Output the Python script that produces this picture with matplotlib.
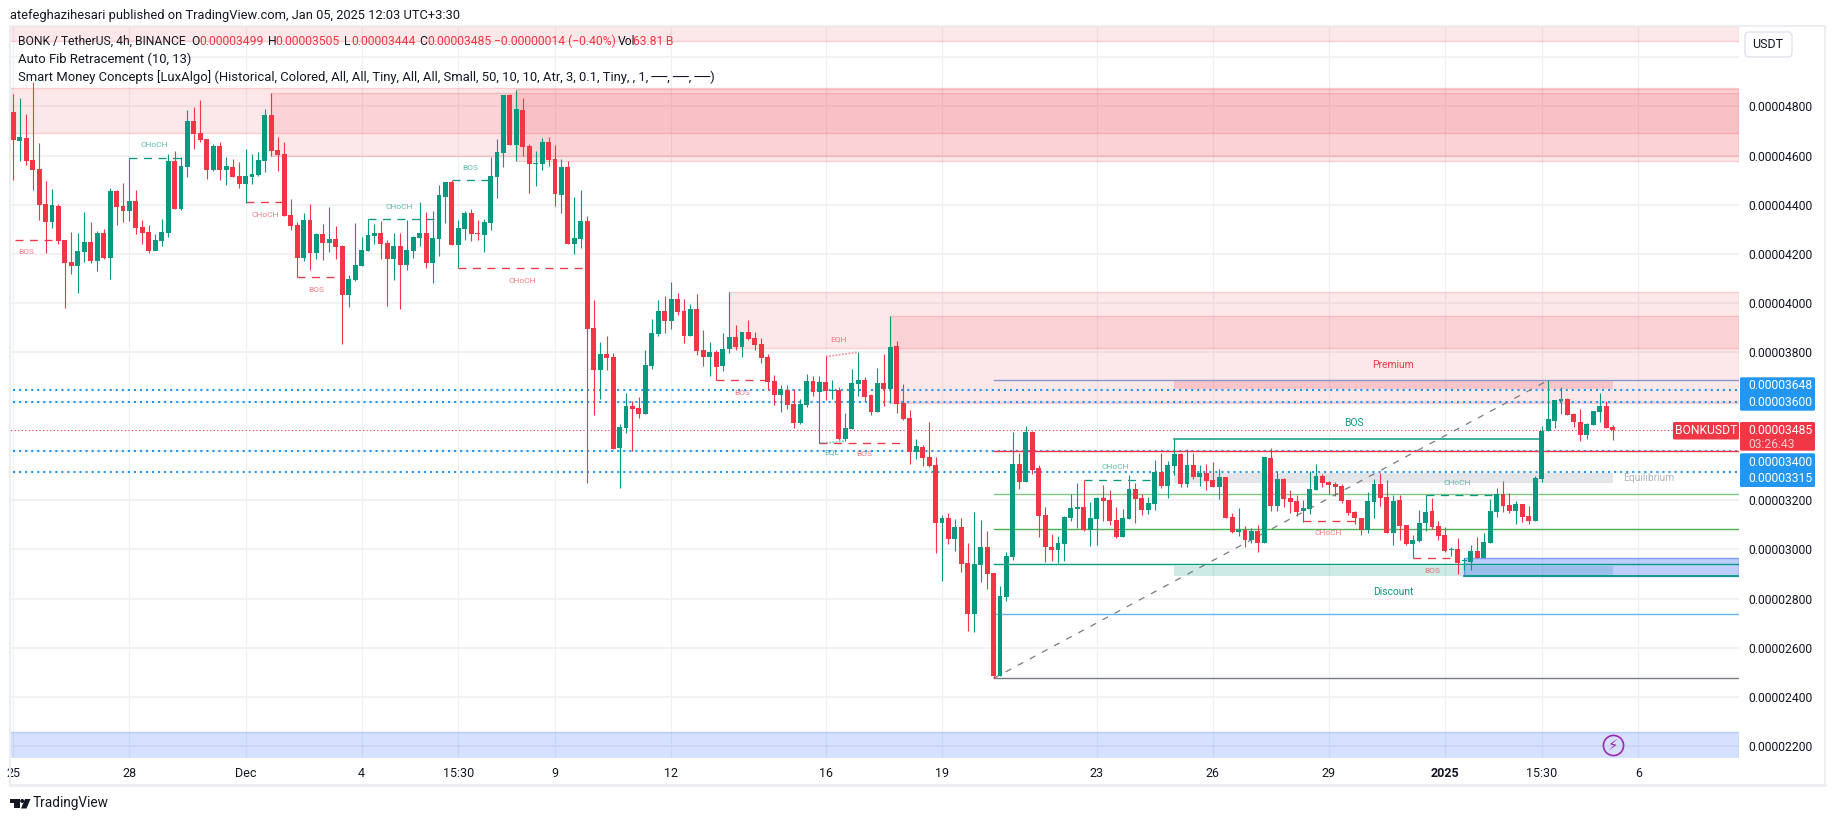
import numpy as np
import matplotlib
matplotlib.use('Agg')
import matplotlib.pyplot as plt
from matplotlib.patches import Rectangle, FancyBboxPatch, Circle, Polygon

plt.rcParams['font.family'] = ['Roboto', 'DejaVu Sans']

# prices are in units of 0.00000001 BONK/USDT
opens = [4777,4659,4671,4582,4545,4403,4330,4395,4257,4168, 4151,4208,4249,4172,4286,4184,4456,4395,4375,4415,
         4310,4290,4212,4253,4286,4578,4383,4554,4740,4692, 4667,4541,4639,4541,4554,4517,4485,4513,4521,4578,
         4765,4623,4606,4359,4318,4184,4338,4204,4281,4245, 4261,4233,4034,4095,4151,4212,4273,4286,4245,4180,
         4233,4156,4212,4265,4286,4164,4261,4432,4493,4237, 4302,4367,4286,4277,4326,4513,4610,4846,4643,4785,
         4639,4566,4566,4655,4586,4440,4554,4241,4261,4334, 3900,3729,3794,3782,3412,3493,3583,3574,3550,3745,
         3875,3968,3928,4017,3968,3867,3977,3810,3782,3802, 3745,3814,3863,3822,3883,3859,3834,3782,3684,3627,
         3648,3591,3513,3587,3685,3640,3681,3645,3648,3449, 3490,3672,3689,3628,3559,3676,3652,3827,3595,3534,
         3396,3417,3376,3343,3108,3128,3043,3091,2945,2738, 2937,3010,2905,2486,2807,2969,3347,3274,3477,3331,
         3140,3010,2997,3022,3127,3164,3172,3079,3123,3209, 3200,3119,3050,3123,3245,3209,3160,3184,3314,3257,
         3339,3387,3266,3343,3294,3310,3282,3253,3294,3131, 3071,3079,3038,3075,3026,3371,3176,3286,3209,3196,
         3156,3164,3241,3298,3274,3266,3257,3201,3152,3127, 3079,3192,3266,3213,3066,3200,3099,3022,3034,3107,
         3156,3095,3059,2996,3002,2952,2949,2994,2965,3026, 3152,3225,3181,3156,3185,3136,3116,3286,3481,3522,
         3603,3611,3550,3518,3465,3506,3558,3583,3499]
highs = [4850,4834,4769,4899,4651,4497,4464,4403,4257,4290, 4286,4371,4330,4294,4302,4468,4460,4489,4589,4460,
         4338,4318,4281,4342,4606,4619,4594,4785,4797,4826, 4667,4647,4655,4594,4586,4574,4627,4606,4615,4789,
         4854,4675,4655,4424,4330,4367,4403,4286,4322,4391, 4314,4237,4115,4326,4269,4341,4322,4334,4257,4286,
         4286,4338,4273,4411,4371,4375,4481,4493,4501,4338, 4375,4383,4338,4342,4594,4667,4846,4850,4866,4834,
         4647,4619,4671,4675,4643,4586,4578,4432,4460,4355, 4013,3843,3867,3798,3509,3635,3603,3619,3810,3936,
         4013,4029,4086,4042,4017,3997,4038,3891,3843,3810, 3879,4046,3912,3883,3932,3883,3859,3794,3708,3668,
         3668,3652,3611,3713,3705,3705,3786,3689,3660,3555, 3733,3802,3701,3632,3737,3794,3949,3847,3672,3567,
         3449,3425,3518,3376,3140,3148,3124,3128,3027,3152, 3120,3075,2905,2852,2990,3477,3391,3501,3481,3343,
         3172,3062,3054,3136,3225,3270,3280,3192,3213,3261, 3241,3172,3164,3302,3270,3225,3213,3363,3391,3359,
         3447,3391,3408,3391,3343,3347,3355,3326,3294,3148, 3168,3095,3087,3099,3375,3412,3318,3290,3241,3221,
         3201,3318,3347,3306,3278,3274,3266,3201,3156,3127, 3233,3286,3310,3282,3221,3221,3099,3059,3160,3220,
         3209,3116,3091,3010,3047,2964,3018,3051,3067,3205, 3250,3278,3229,3197,3185,3177,3298,3502,3688,3607,
         3659,3615,3554,3571,3514,3562,3636,3603,3505]
lows = [4501,4578,4562,4460,4338,4204,4306,4241,3981,4119, 4042,4168,4164,4131,4180,4099,4318,4330,4334,4281,
        4241,4204,4233,4233,4269,4383,4379,4513,4627,4655, 4505,4537,4501,4480,4513,4468,4409,4485,4517,4533,
        4598,4537,4355,4298,4105,4172,4135,4180,4176,4208, 4180,3835,3985,4091,4151,4212,4241,4180,3989,4095,
        3977,4135,4184,4233,4143,4082,4192,4326,4237,4142, 4257,4253,4257,4208,4298,4428,4554,4643,4578,4598,
        4448,4476,4541,4558,4395,4367,4241,4200,4225,3270, 3546,3611,3729,3408,3250,3473,3400,3534,3550,3733,
        3867,3879,3895,3952,3838,3867,3790,3745,3704,3687, 3725,3798,3810,3782,3851,3810,3757,3648,3587,3558,
        3570,3493,3509,3579,3624,3431,3607,3611,3445,3441, 3490,3624,3603,3546,3559,3583,3595,3555,3526,3347,
        3368,3339,3335,2986,2872,3022,2994,2909,2669,2665, 2868,2840,2478,2486,2791,2957,3245,3274,3306,3050,
        2949,2953,2945,2953,3115,3087,3075,3014,3018,3115, 3099,3046,3050,3123,3107,3140,3144,3160,3249,3209,
        3302,3253,3253,3286,3257,3241,3253,3205,3127,3066, 3054,3010,3026,2989,3026,3156,3156,3172,3148,3136,
        3113,3144,3241,3253,3225,3217,3188,3140,3103,3058, 3066,3127,3176,3066,3018,3038,3018,2964,3030,3075,
        3083,3038,2990,2973,2900,2917,2917,2964,2964,3026, 3132,3152,3148,3103,3112,3103,3116,3274,3481,3493,
        3550,3546,3497,3441,3449,3506,3518,3493,3444]
closes = [4663,4675,4578,4541,4399,4330,4399,4253,4164,4151, 4212,4249,4172,4286,4184,4456,4391,4375,4415,4306,
          4286,4212,4257,4290,4578,4383,4558,4740,4688,4663, 4541,4639,4541,4558,4513,4485,4517,4525,4582,4765,
          4619,4602,4355,4314,4184,4338,4204,4281,4245,4261, 4229,4034,4099,4156,4216,4277,4286,4241,4180,4233,
          4156,4216,4269,4286,4164,4265,4440,4493,4237,4306, 4367,4281,4281,4330,4517,4615,4846,4643,4789,4635,
          4566,4570,4655,4582,4444,4554,4241,4265,4334,3896, 3729,3794,3778,3408,3497,3583,3570,3550,3749,3879,
          3968,3928,4017,3964,3867,3977,3806,3782,3802,3741, 3814,3863,3822,3883,3855,3830,3778,3680,3627,3650,
          3587,3513,3591,3684,3640,3681,3644,3648,3449,3494, 3676,3689,3620,3559,3676,3652,3823,3591,3530,3396,
          3421,3372,3339,3108,3128,3043,3091,2941,2738,2941, 3010,2901,2486,2811,2974,3347,3274,3477,3322,3136,
          3010,2997,3026,3132,3168,3172,3079,3127,3209,3196, 3115,3050,3127,3245,3205,3160,3188,3314,3257,3343,
          3387,3266,3343,3294,3310,3278,3253,3294,3127,3071, 3079,3038,3075,3026,3375,3176,3286,3205,3192,3152,
          3168,3245,3298,3270,3261,3253,3196,3148,3127,3079, 3196,3266,3209,3066,3196,3095,3022,3038,3107,3152,
          3091,3055,2994,2998,2945,2955,2994,2965,3030,3156, 3225,3176,3156,3185,3132,3116,3290,3481,3530,3607,
          3611,3546,3518,3465,3510,3562,3583,3493,3485]

time_ticks = [0, 18, 36, 54, 69, 84, 102, 126, 144, 168, 186, 204, 222, 237, 252]
time_labels = ['25', '28', 'Dec', '4', '15:30', '9', '12', '16', '19', '23', '26', '29', '2025', '15:30', '6']
price_ticks = list(range(2200, 5001, 200))
hidden_ticks = [3400, 3600, 5000]

# supply zones: start bar, top, bottom
red_zones = [(-1, 5125, 5067), (-1, 4873, 4691), (40, 4854, 4600), (78, 4869, 4579),
             (111, 4045, 3820), (136, 3948, 3596)]
# fib levels: price, colour
fib_levels = [(3687, '#8598c9'), (3400, '#f23645'), (3224, '#81c784'), (3082, '#4caf50'),
              (2940, '#089981'), (2736, '#64b5f6'), (2476, '#787b86')]
blue_levels = [3648, 3600, 3400, 3315]
last_price = 3485

# smart money breaks: start, end, price, label, label bar, label price, colour
UP = '#089981'
DN = '#f23645'
breaks = [(0.3, 7, 4257, 'BOS', 2, 4208, DN), (18, 26, 4590, 'CHoCH', 21.8, 4643, UP),
          (36, 42, 4411, 'CHoCH', 39, 4360, DN), (44, 50, 4105, 'BOS', 47, 4055, DN),
          (55, 66, 4341, 'CHoCH', 59.9, 4392, UP), (68, 74, 4500, 'BOS', 70.9, 4551, UP),
          (69, 89, 4142, 'CHoCH', 78.9, 4092, DN), (109, 117, 3687, 'BOS', 113, 3637, DN),
          (125, 137.6, 3431, 'BOS', 131.9, 3386, DN), (166, 176.8, 3281, 'CHoCH', 170.9, 3334, UP),
          (200, 208, 3114, 'CHoCH', 203.9, 3065, DN), (219, 229.6, 3220, 'CHoCH', 223.9, 3271, UP),
          (217, 224, 2964, 'BOS', 220, 2913, DN)]

fig = plt.figure(figsize=(18.35, 8.21), dpi=100, facecolor='white')
W, H = 1835.0, 821.0
ax = fig.add_axes([10 / W, 1 - 757.7 / H, (1739 - 10) / W, (757.7 - 27) / H])
bar_idx = np.arange(len(opens))
x_right = 267.6
ax.set_xlim(-0.52, x_right)
ax.set_ylim(2154, 5122)

# grid
ax.set_axisbelow(True)
ax.grid(True, axis='y', color='#f1f2f4', linewidth=1.4)
ax.grid(True, axis='x', color='#eef0f3', linewidth=0.9)
ax.set_xticks(time_ticks)
ax.set_xticklabels(time_labels, fontsize=9, color='#131722')
ax.set_yticks(price_ticks)
ax.set_yticklabels(['' if p in hidden_ticks else f'0.0000{p:04d}' for p in price_ticks],
                   fontsize=8.7, color='#131722')
ax.yaxis.tick_right()
ax.tick_params(axis='both', length=0)
ax.tick_params(axis='y', pad=6.5)
ax.tick_params(axis='x', pad=7)
for s in ax.spines.values():
    s.set_visible(False)
for lab in ax.get_xticklabels():
    if lab.get_text() == '2025':
        lab.set_fontweight('bold')

# zones
for start, top, bottom in red_zones:
    ax.add_patch(Rectangle((start, bottom), x_right - start, top - bottom,
                           facecolor=(0.949, 0.212, 0.271, 0.115),
                           edgecolor=(0.949, 0.212, 0.271, 0.2), linewidth=1, zorder=1))
ax.add_patch(Rectangle((-1, 2100), x_right + 1, 159, facecolor=(0.16, 0.38, 1, 0.19),
                       edgecolor=(0.16, 0.38, 1, 0.25), linewidth=1, zorder=1))
ax.add_patch(Rectangle((225, 2892), x_right - 225, 72, facecolor=(0.16, 0.38, 1, 0.30),
                       edgecolor=(0.16, 0.38, 1, 0.55), linewidth=1, zorder=1.2))
ax.add_patch(Rectangle((180, 3652), 68, 36, facecolor='#f23645', alpha=0.2, linewidth=0, zorder=1.1))
ax.add_patch(Rectangle((180, 3270), 68, 39, facecolor='#b2b5be', alpha=0.35, linewidth=0, zorder=1.1))
ax.add_patch(Rectangle((180, 2892), 68, 41, facecolor='#089981', alpha=0.20, linewidth=0, zorder=1.1))

# dotted levels
for price in blue_levels:
    ax.plot([-1, x_right], [price, price], color='#2196f3', linewidth=1.5, linestyle=(0, (1, 1.9)), zorder=1.9)
ax.plot([-1, x_right], [last_price, last_price], color='#f23645', linewidth=0.8, linestyle=(0, (1, 2.2)), zorder=1.9)

# fib levels and trend line
for price, col in fib_levels:
    ax.plot([152, x_right], [price, price], color=col, linewidth=1.0, zorder=2)
ax.plot([225, x_right], [2892, 2892], color='#089981', linewidth=1.3, zorder=2)
ax.plot([152, 238], [2476, 3687], color='#787b86', linewidth=0.9, linestyle=(0, (5, 6)), zorder=2)

# structure breaks
for x0, x1, price, label, lx, ly, col in breaks:
    ax.plot([x0, x1], [price, price], color=col, linewidth=0.95, linestyle=(0, (6, 5)), zorder=2.5)
    ax.text(lx, ly, label, fontsize=6, color=col, alpha=0.65, ha='center', va='center', zorder=5)
ax.plot([180, 237], [3447, 3447], color=UP, linewidth=1.1, zorder=2.5)
ax.text(207.9, 3512, 'BOS', fontsize=7.4, color=UP, ha='center', va='center', zorder=5)

ax.plot([126, 131], [3783, 3801], color=DN, alpha=0.5, linewidth=1.3, linestyle=(0, (1, 0.8)), zorder=2.5)
ax.text(127.9, 3852, 'EQH', fontsize=6, color=DN, alpha=0.65, ha='center', va='center', zorder=5)
ax.plot([125, 129], [3431, 3439], color=UP, alpha=0.5, linewidth=1.3, linestyle=(0, (1, 0.8)), zorder=2.5)
ax.text(126.9, 3393, 'EQL', fontsize=6, color=UP, alpha=0.65, ha='center', va='center', zorder=5)

ax.text(214, 3750, 'Premium', fontsize=7.4, color=DN, ha='center', va='center', zorder=5)
ax.text(214, 2828, 'Discount', fontsize=7.4, color=UP, ha='center', va='center', zorder=5)
ax.text(253.6, 3291, 'Equilibrium', fontsize=7.4, color='#b2b5be', ha='center', va='center', zorder=5)

# candles
opens_a, highs_a, lows_a, closes_a = map(np.array, (opens, highs, lows, closes))
colors = np.where(closes_a >= opens_a, UP, DN)
ax.vlines(bar_idx, lows_a, highs_a, colors=colors, linewidth=0.8, zorder=3)
ax.bar(bar_idx, np.maximum(np.abs(closes_a - opens_a), 4), bottom=np.minimum(opens_a, closes_a),
       width=0.76, color=colors, linewidth=0, zorder=3.1)

# lightning marker
ax.plot([248], [2205], marker='o', markersize=14.5, mfc='none', mec='#9c27b0', mew=1.2, zorder=6)
ax.text(248, 2205, '\u26a1', fontsize=10.5, color='#9c27b0', ha='center', va='center', zorder=7,
        family='DejaVu Sans')

# overlay in pixels for header, legend and price labels
ov = fig.add_axes([0, 0, 1, 1], zorder=10)
ov.set_xlim(0, W)
ov.set_ylim(H, 0)
ov.axis('off')
ov.patch.set_alpha(0)

TXT = '#131722'
RED = '#f23645'
ov.text(10, 15, 'atefeghazihesari published on TradingView.com, Jan 05, 2025 12:03 UTC+3:30',
        fontsize=9.25, color=TXT, va='center')
legend_row = [(18, 'BONK / TetherUS, 4h, BINANCE', TXT), (191.7, 'O', TXT), (199.5, '0.00003499', RED),
              (267.5, 'H', TXT), (275.5, '0.00003505', RED), (344.4, 'L', TXT), (351, '0.00003444', RED),
              (419.6, 'C', TXT), (427.5, '0.00003485', RED), (493.7, '\u22120.00000014 (\u22120.40%)', RED),
              (617.7, 'Vol', TXT), (633, '63.81\u2009B', RED)]
for x, s, col in legend_row:
    ov.text(x, 41.5, s, fontsize=8.7, color=col, va='center')
ov.text(18, 59, 'Auto Fib Retracement (10, 13)', fontsize=9.4, color=TXT, va='center')
ov.text(18, 76.7, 'Smart Money Concepts [LuxAlgo] (Historical, Colored, All, All, Tiny, All, All, Small, '
        '50, 10, 10, Atr, 3, 0.1, Tiny, , 1, \u2500\u2500, \u2500\u2500, \u2500\u2500)',
        fontsize=9.35, color=TXT, va='center')

# frame lines
ov.plot([10, 1825], [26, 26], color='#eceef2', linewidth=1.5)
ov.plot([10, 1825], [785, 785], color='#eceef2', linewidth=2)
ov.plot([10, 10], [26, 785], color='#eceef2', linewidth=1.5)
ov.plot([1825, 1825], [26, 785], color='#eceef2', linewidth=1.5)

# USDT button
ov.add_patch(FancyBboxPatch((1745, 32), 47, 25, boxstyle='round,pad=0,rounding_size=4',
                            facecolor='white', edgecolor='#e0e3eb', linewidth=1))
ov.text(1768, 44.5, 'USDT', fontsize=9, color=TXT, ha='center', va='center')

# price labels
BLUE = '#2196f3'
ov.add_patch(FancyBboxPatch((1740, 377.3), 75, 33.4, boxstyle='round,pad=0,rounding_size=1.5', fc=BLUE, ec='none'))
ov.add_patch(FancyBboxPatch((1740, 453.3), 75, 33.7, boxstyle='round,pad=0,rounding_size=1.5', fc=BLUE, ec='none'))
ov.add_patch(FancyBboxPatch((1740, 422), 75, 28.7, boxstyle='round,pad=0,rounding_size=1.5', fc=RED, ec='none'))
ov.add_patch(FancyBboxPatch((1673, 422), 66, 17.5, boxstyle='round,pad=0,rounding_size=1.5', fc=RED, ec='none'))
for y, p in zip([385.5, 402.7, 462, 478.5], blue_levels):
    ov.text(1748, y, f'0.0000{p:04d}', fontsize=8.7, color='white', va='center')
ov.text(1748, 431, f'0.0000{last_price:04d}', fontsize=8.7, color='white', va='center')
ov.text(1748, 445, '03:26:43', fontsize=8.7, color='#fcc6cb', va='center')
ov.text(1706, 431, 'BONKUSDT', fontsize=8.7, color='white', ha='center', va='center')

# logo
LOGO = '#131722'
ov.add_patch(Rectangle((10, 799), 9.5, 3.6, fc=LOGO, ec='none'))
ov.add_patch(Rectangle((13.8, 799), 5.7, 9.5, fc=LOGO, ec='none'))
ov.add_patch(Circle((22.2, 801), 2, fc=LOGO, ec='none'))
ov.add_patch(Polygon([(25, 799), (30.5, 799), (26.5, 808.5), (21, 808.5)], fc=LOGO, ec='none'))
ov.text(33, 803.5, 'TradingView', fontsize=9.8, color=LOGO, va='center')

fig.savefig('out.png', dpi=100, facecolor='white')
